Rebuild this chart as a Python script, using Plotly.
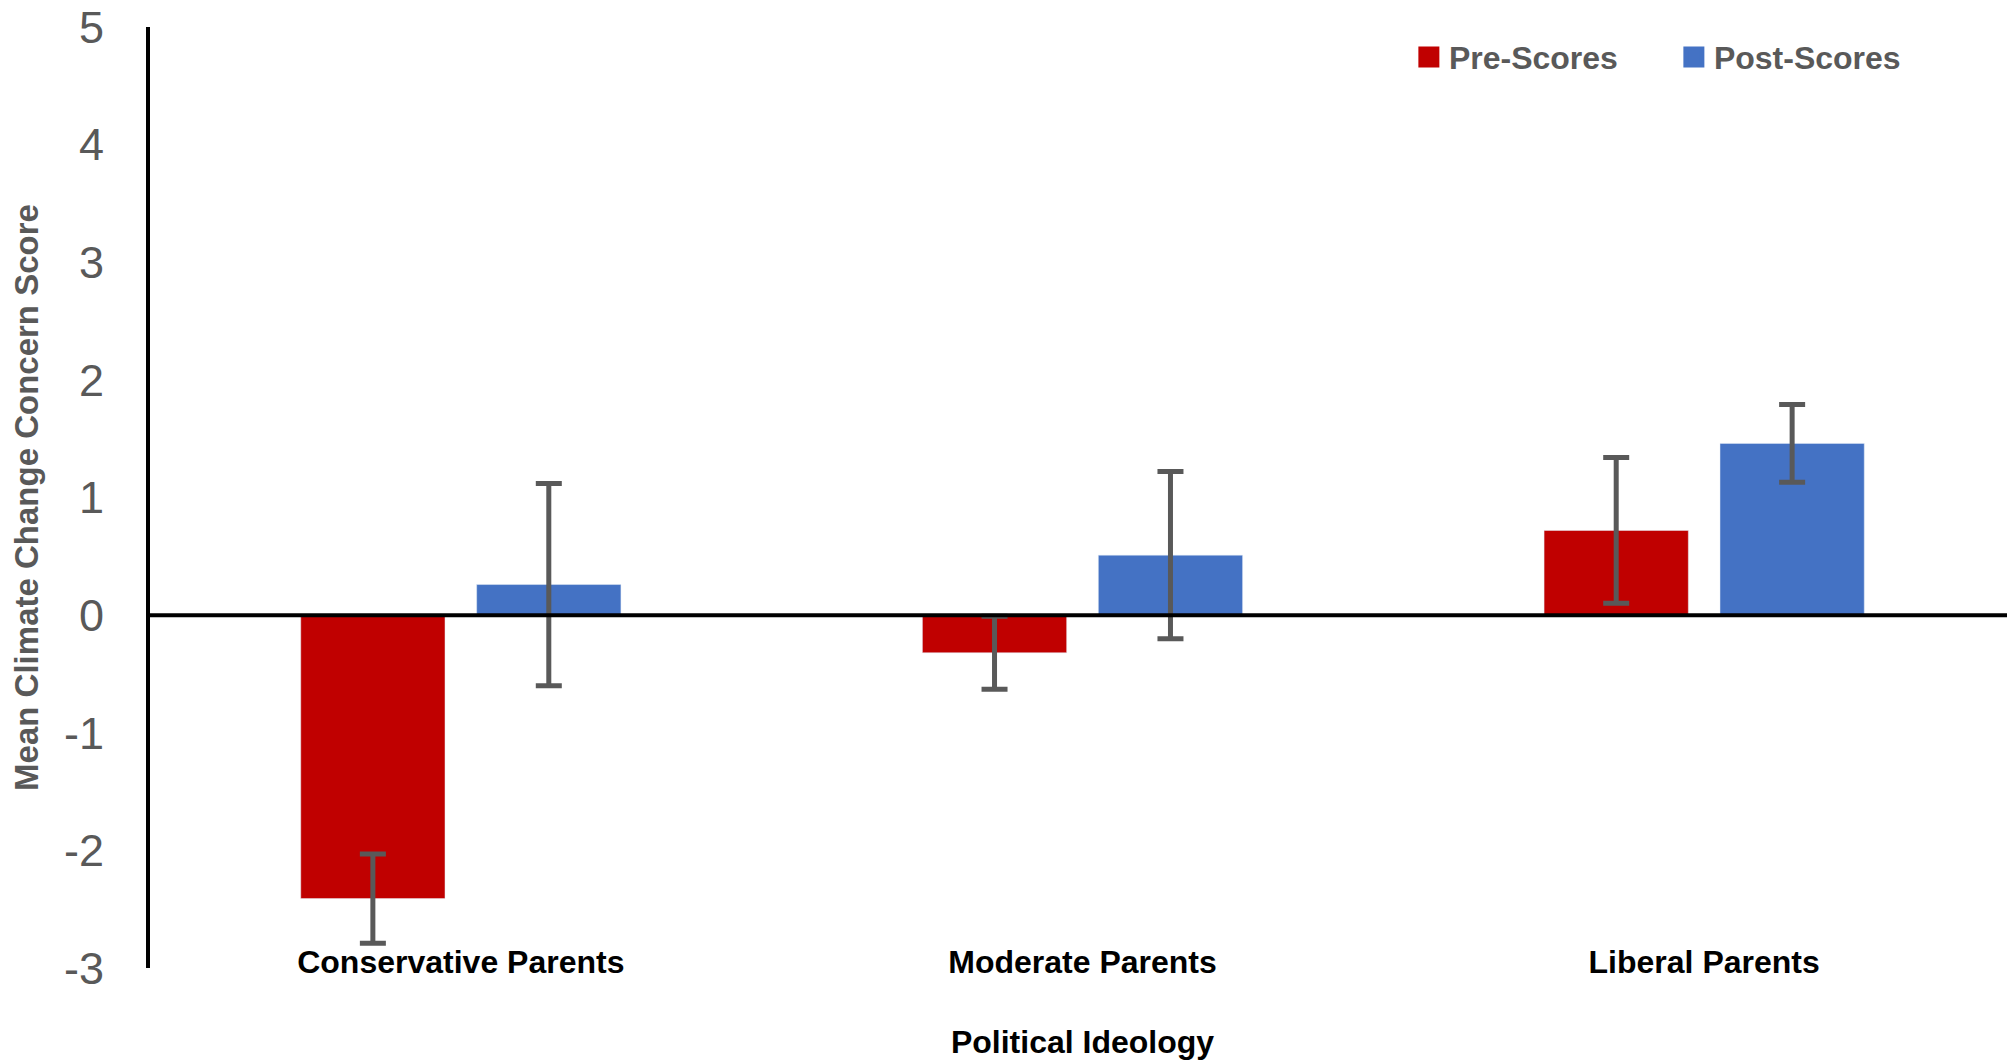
import plotly.graph_objects as go

categories = ["Conservative Parents", "Moderate Parents", "Liberal Parents"]
pre_scores = [-2.41, -0.32, 0.72]
post_scores = [0.26, 0.51, 1.46]
pre_err = [0.38, 0.31, 0.62]
post_err = [0.86, 0.71, 0.33]
y_tickvals = [-3, -2, -1, 0, 1, 2, 3, 4, 5]
y_ticktext = ["-3", "-2", "-1", "0", "1", "2", "3", "4", "5"]

PRE_COLOR = "#C00000"
POST_COLOR = "#4472C4"
ERR_COLOR = "#595959"
GREY = "#595959"

fig = go.Figure()
fig.add_trace(go.Bar(
    x=categories, y=pre_scores, name="Pre-Scores", marker_color=PRE_COLOR,
    showlegend=False,
    error_y=dict(type="data", array=pre_err, color=ERR_COLOR, thickness=5, width=13),
))
fig.add_trace(go.Bar(
    x=categories, y=post_scores, name="Post-Scores", marker_color=POST_COLOR,
    showlegend=False,
    error_y=dict(type="data", array=post_err, color=ERR_COLOR, thickness=5, width=13),
))
# legend-only entries with larger square swatches
for nm, col in [("Pre-Scores", PRE_COLOR), ("Post-Scores", POST_COLOR)]:
    fig.add_trace(go.Scatter(
        x=[None], y=[None], mode="markers", name=nm,
        marker=dict(symbol="square", size=16, color=col, line=dict(color=col, width=5)),
    ))

fig.add_shape(type="line", xref="paper", yref="y", x0=0, x1=1, y0=0, y1=0,
              line=dict(color="black", width=4), layer="above")

fig.update_layout(
    width=2007, height=1055,
    paper_bgcolor="white", plot_bgcolor="white",
    margin=dict(l=142, r=0, t=19, b=95, autoexpand=False),
    barmode="group", bargap=0.434, bargroupgap=0.18,
    font=dict(family="Liberation Sans, Arial, sans-serif"),
    legend=dict(
        orientation="h", x=0.675, y=0.968, xanchor="left", yanchor="middle",
        font=dict(size=32, color=GREY, family="Liberation Sans, Arial", weight="bold"),
        entrywidth=220, entrywidthmode="pixels",
        bgcolor="rgba(0,0,0,0)",
    ),
    xaxis=dict(
        type="category", range=[-0.5, 2.5], showgrid=False, showline=False,
        ticks="", zeroline=False, anchor="free", position=0.03,
        tickfont=dict(size=32, color="black", family="Liberation Sans, Arial", weight="bold"),
        title=dict(text="Political Ideology", standoff=51,
                   font=dict(size=32, color="black", family="Liberation Sans, Arial", weight="bold")),
    ),
    yaxis=dict(
        range=[-3, 5], tickvals=y_tickvals, ticktext=y_ticktext,
        showgrid=False, zeroline=False, showline=True, linecolor="black", linewidth=4,
        ticks="", ticklabelstandoff=33, ticklabeloverflow="allow",
        tickfont=dict(size=45, color=GREY, family="Liberation Sans, Arial, sans-serif"),
        title=dict(text="Mean Climate Change Concern Score", standoff=20,
                   font=dict(size=33, color=GREY, family="Liberation Sans, Arial",
                             weight="bold")),
    ),
)

fig.write_html("out.html")
